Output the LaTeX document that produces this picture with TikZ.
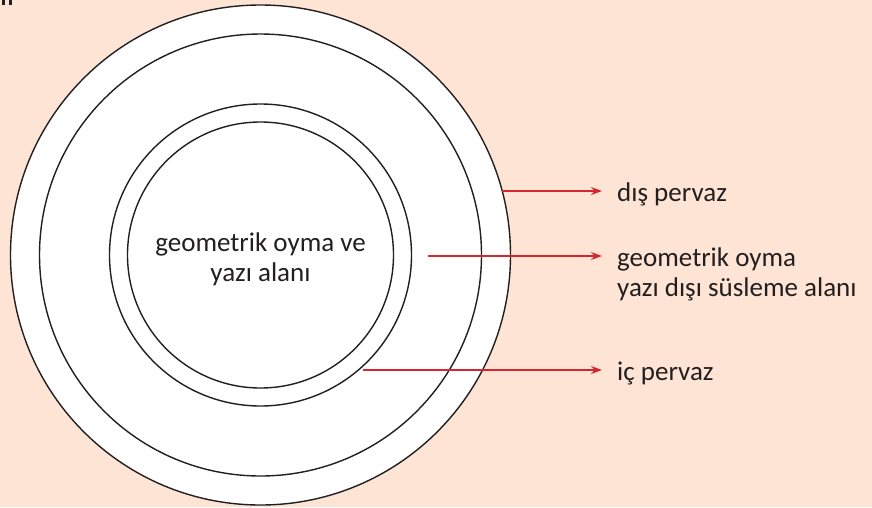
\documentclass[tikz,border=0pt]{standalone}
\usepackage{fontspec}
\setmainfont{Carlito}
\usetikzlibrary{arrows.meta}
\definecolor{peach}{HTML}{FDE4D4}
\definecolor{arrred}{HTML}{D62630}
\definecolor{ink}{HTML}{231F20}
\tikzset{
  ring/.style={draw=ink, line width=1.4pt},
  pointer/.style={draw=arrred, line width=1.3pt, -{Stealth[length=11pt,width=8pt]}},
  lbl/.style={font=\fontsize{27}{30}\selectfont, text=ink, anchor=base west, align=left, inner sep=0pt},
  ctr/.style={font=\fontsize{27}{30}\selectfont, text=ink, anchor=base, align=center, inner sep=0pt}
}
\begin{document}
\begin{tikzpicture}[x=1pt,y=-1pt]
\fill[peach] (0,0) rectangle (872,507);
\useasboundingbox (0,0) rectangle (872,507);
% cropped marks at top-left
\fill[ink] (1.5,0) rectangle (4.5,5);
\fill[ink] (9,0) rectangle (12,5);
% rings
\coordinate (c) at (260.5,255);
\draw[ring, fill=white] (c) circle[radius=250];
\draw[ring] (c) circle[radius=221];
\draw[ring] (c) circle[radius=151];
\draw[ring] (c) circle[radius=133];
\node[ctr] (center) at (260.5,281.5) {geometrik oyma ve\\yazı alanı};
% label anchors
\coordinate (s1) at (502,191);
\coordinate (e1) at (602,191);
\coordinate (s2) at (428,256);
\coordinate (e2) at (602,256);
\coordinate (s3) at (363,370);
\coordinate (e3) at (602,370);
\draw[pointer] (s1) -- (e1);
\draw[pointer] (s2) -- (e2);
\draw[pointer] (s3) -- (e3);
\node[lbl] (l1) at (617,201.5) {dış pervaz};
\node[lbl] (l2) at (617,296.5) {geometrik oyma\\yazı dışı süsleme alanı};
\node[lbl] (l3) at (617,380) {iç pervaz};
\end{tikzpicture}
\end{document}
